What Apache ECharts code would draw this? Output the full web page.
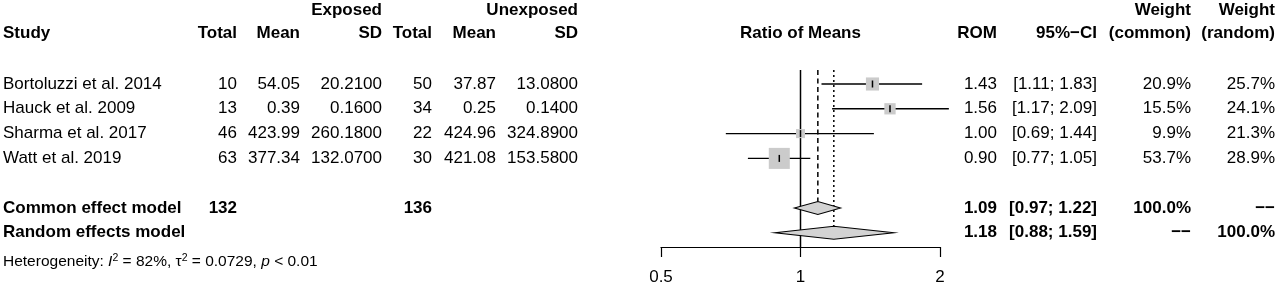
<!DOCTYPE html>
<html>
<head>
<meta charset="utf-8">
<script src="https://cdn.jsdelivr.net/npm/echarts@6/dist/echarts.min.js"></script>
<style>
  html, body { margin: 0; padding: 0; background: #fff; }
  #chart { width: 1280px; height: 286px; }
</style>
</head>
<body>
<div id="chart"></div>
<script>
// study data
const studies = ["Bortoluzzi et al. 2014", "Hauck et al. 2009", "Sharma et al. 2017", "Watt et al. 2019"];
const expTotal = [10, 13, 46, 63];
const expMean = [54.05, 0.39, 423.99, 377.34];
const expSD = [20.21, 0.16, 260.18, 132.07];
const unexpTotal = [50, 34, 22, 30];
const unexpMean = [37.87, 0.25, 424.96, 421.08];
const unexpSD = [13.08, 0.14, 324.89, 153.58];
const rom = [1.43, 1.56, 1.0, 0.9];
const ciLow = [1.11, 1.17, 0.69, 0.77];
const ciHigh = [1.83, 2.09, 1.44, 1.05];
const weightCommon = [20.9, 15.5, 9.9, 53.7];
const weightRandom = [25.7, 24.1, 21.3, 28.9];

// pooled models
const modelNames = ["Common effect model", "Random effects model"];
const modelRom = [1.09, 1.18];
const modelLow = [0.97, 0.88];
const modelHigh = [1.22, 1.59];
const modelWeightCommon = ["100.0%", "\u2212\u2212"];
const modelWeightRandom = ["\u2212\u2212", "100.0%"];
const totalExposed = 132;
const totalUnexposed = 136;

const xTicks = [0.5, 1, 2];
const heterogeneity = "Heterogeneity: {i|I}{sup|2} = 82%, \u03c4{sup|2} = 0.0729, {i|p} < 0.01";

// layout
const ROW_H = 24.8;
const GRID_TOP = 84;
const GRID_BOTTOM = 39;
const Y_MAX = (286 - GRID_TOP - GRID_BOTTOM) / ROW_H;
const MODEL_ROW = [5, 6];
const SQUARE_K = 2.87;
const DIAMOND_H = 6.5;
const FONT = '"Liberation Sans", Arial, sans-serif';

const col = {
  study: [3, "left"], expTotal: [237, "right"], expMean: [300, "right"], expSD: [382, "right"],
  unTotal: [432, "right"], unMean: [496, "right"], unSD: [578, "right"],
  rom: [997, "right"], ci: [1097, "right"], wc: [1191, "right"], wr: [1275, "right"]
};

const fmtCI = (lo, hi) => `[${lo.toFixed(2)}; ${hi.toFixed(2)}]`;

// 表格单元格
const cells = [];
const cell = (row, c, text, bold) => cells.push({ row, x: col[c][0], align: col[c][1], text: String(text), bold });

cell(-2.98, "expSD", "Exposed", true);
cell(-2.98, "unSD", "Unexposed", true);
cell(-2.98, "wc", "Weight", true);
cell(-2.98, "wr", "Weight", true);
cell(-2.06, "study", "Study", true);
cell(-2.06, "expTotal", "Total", true);
cell(-2.06, "expMean", "Mean", true);
cell(-2.06, "expSD", "SD", true);
cell(-2.06, "unTotal", "Total", true);
cell(-2.06, "unMean", "Mean", true);
cell(-2.06, "unSD", "SD", true);
cell(-2.06, "rom", "ROM", true);
cell(-2.06, "ci", "95%\u2212CI", true);
cell(-2.06, "wc", "(common)", true);
cell(-2.06, "wr", "(random)", true);

studies.forEach((s, i) => {
  cell(i, "study", s);
  cell(i, "expTotal", expTotal[i]);
  cell(i, "expMean", expMean[i].toFixed(2));
  cell(i, "expSD", expSD[i].toFixed(4));
  cell(i, "unTotal", unexpTotal[i]);
  cell(i, "unMean", unexpMean[i].toFixed(2));
  cell(i, "unSD", unexpSD[i].toFixed(4));
  cell(i, "rom", rom[i].toFixed(2));
  cell(i, "ci", fmtCI(ciLow[i], ciHigh[i]));
  cell(i, "wc", weightCommon[i].toFixed(1) + "%");
  cell(i, "wr", weightRandom[i].toFixed(1) + "%");
});

modelNames.forEach((m, k) => {
  const r = MODEL_ROW[k];
  cell(r, "study", m, true);
  if (k === 0) {
    cell(r, "expTotal", totalExposed, true);
    cell(r, "unTotal", totalUnexposed, true);
  }
  cell(r, "rom", modelRom[k].toFixed(2), true);
  cell(r, "ci", fmtCI(modelLow[k], modelHigh[k]), true);
  cell(r, "wc", modelWeightCommon[k], true);
  cell(r, "wr", modelWeightRandom[k], true);
});

const chart = echarts.init(document.getElementById("chart"));

const option = {
  animation: false,
  backgroundColor: "#fff",
  grid: { left: 661, width: 279, top: GRID_TOP, bottom: GRID_BOTTOM },
  xAxis: {
    type: "log",
    logBase: 2,
    min: 0.5,
    max: 2,
    position: "bottom",
    axisLine: { onZero: false, lineStyle: { color: "#000", width: 1.2 } },
    axisTick: { length: 10, lineStyle: { color: "#000", width: 1.2 } },
    axisLabel: {
      color: "#000", fontSize: 17, fontFamily: FONT, margin: 22,
      showMinLabel: true, showMaxLabel: true,
      formatter: (v) => (xTicks.some((t) => Math.abs(t - v) < 1e-6) ? String(+v.toFixed(2)) : "")
    },
    splitLine: { show: false }
  },
  yAxis: { type: "value", inverse: true, min: 0, max: Y_MAX, show: false },
  series: [
    // 参考线
    {
      type: "custom",
      clip: false,
      silent: true,
      data: [[1], [modelRom[0]], [modelRom[1]]],
      renderItem: (params, api) => {
        const i = params.dataIndex;
        const top = api.coord([1, -0.565])[1];
        let bottom;
        let dash = null;
        if (i === 0) {
          bottom = api.coord([1, Y_MAX])[1];
        } else {
          bottom = api.coord([1, MODEL_ROW[i - 1]])[1] - DIAMOND_H;
          dash = i === 1 ? [5, 3.5] : [2, 3];
        }
        const x = api.coord([api.value(0), 0])[0];
        return {
          type: "line",
          shape: { x1: x, y1: top, x2: x, y2: bottom },
          style: { stroke: "#000", lineWidth: 1.5, lineDash: dash }
        };
      }
    },
    // 各研究的置信区间和方块
    {
      type: "custom",
      clip: false,
      silent: true,
      data: rom.map((v, i) => [v, ciLow[i], ciHigh[i], weightCommon[i], i]),
      renderItem: (params, api) => {
        const row = api.value(4);
        const p = api.coord([api.value(0), row]);
        const lo = api.coord([api.value(1), row]);
        const hi = api.coord([api.value(2), row]);
        const s = SQUARE_K * Math.sqrt(api.value(3));
        return {
          type: "group",
          children: [
            { type: "line", shape: { x1: lo[0], y1: p[1], x2: hi[0], y2: p[1] }, style: { stroke: "#000", lineWidth: 1.4 } },
            { type: "rect", shape: { x: p[0] - s / 2, y: p[1] - s / 2, width: s, height: s }, style: { fill: "#cbcbcb" } },
            { type: "line", shape: { x1: p[0], y1: p[1] - 3.5, x2: p[0], y2: p[1] + 3.5 }, style: { stroke: "#000", lineWidth: 1.5 } }
          ]
        };
      }
    },
    // 合并效应菱形
    {
      type: "custom",
      clip: false,
      silent: true,
      data: modelRom.map((v, k) => [v, modelLow[k], modelHigh[k], MODEL_ROW[k]]),
      renderItem: (params, api) => {
        const row = api.value(3);
        const c = api.coord([api.value(0), row]);
        const lo = api.coord([api.value(1), row]);
        const hi = api.coord([api.value(2), row]);
        return {
          type: "polygon",
          shape: { points: [[lo[0], c[1]], [c[0], c[1] - DIAMOND_H], [hi[0], c[1]], [c[0], c[1] + DIAMOND_H]] },
          style: { fill: "#d3d3d3", stroke: "#000", lineWidth: 1.1 }
        };
      }
    },
    // 表格文字
    {
      type: "custom",
      clip: false,
      silent: true,
      data: cells.map((c) => [1, c.row]),
      renderItem: (params, api) => {
        const c = cells[params.dataIndex];
        const y = api.coord([1, c.row])[1];
        return {
          type: "text",
          x: c.x,
          y: y,
          style: {
            text: c.text,
            fill: "#000",
            fontSize: 17,
            fontFamily: FONT,
            fontWeight: c.bold ? "bold" : "normal",
            align: c.align,
            verticalAlign: "middle"
          }
        };
      }
    },
    // 标题和异质性
    {
      type: "custom",
      clip: false,
      silent: true,
      data: [[1, -2.06], [1, 7.15]],
      renderItem: (params, api) => {
        const p = api.coord([api.value(0), api.value(1)]);
        if (params.dataIndex === 0) {
          return {
            type: "text", x: p[0], y: p[1],
            style: { text: "Ratio of Means", fill: "#000", fontSize: 17, fontFamily: FONT, fontWeight: "bold", align: "center", verticalAlign: "middle" }
          };
        }
        return {
          type: "text", x: 3, y: p[1],
          style: {
            text: heterogeneity, fill: "#000", fontSize: 15.5, fontFamily: FONT,
            align: "left", verticalAlign: "middle",
            rich: {
              i: { fontSize: 15.5, fontFamily: FONT, fontStyle: "italic", lineHeight: 18 },
              sup: { fontSize: 10.5, fontFamily: FONT, verticalAlign: "top", lineHeight: 18 }
            }
          }
        };
      }
    }
  ]
};

chart.setOption(option);
</script>
</body>
</html>
